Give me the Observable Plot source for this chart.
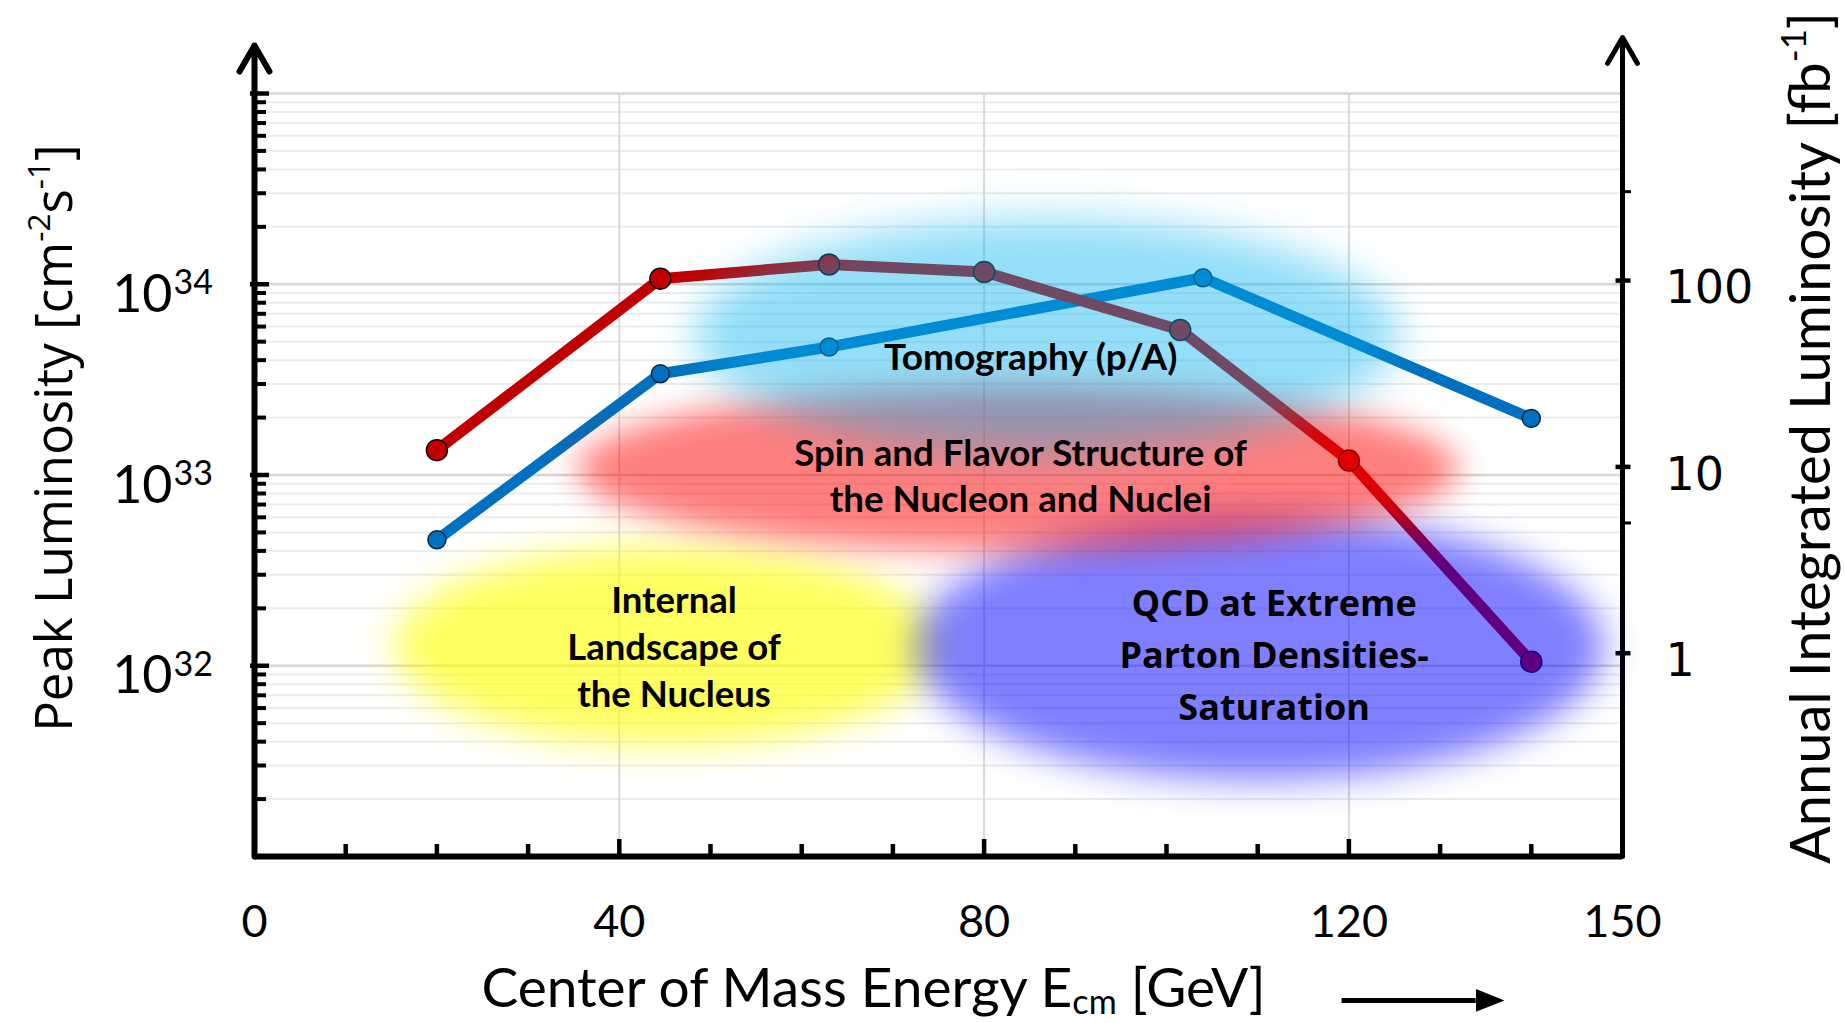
<!DOCTYPE html>
<html><head><meta charset="utf-8">
<script src="https://cdn.jsdelivr.net/npm/d3@7"></script>
<script src="https://cdn.jsdelivr.net/npm/@observablehq/plot@0.6"></script>
<style>
html,body{margin:0;padding:0;background:#fff;}
#chart{position:relative;width:1845px;height:1023px;overflow:hidden;}
#chart svg{position:absolute;left:0;top:0;}
</style></head><body><div id="chart"></div>
<script>
// ---------- data ----------
// Peak luminosity (left axis, cm^-2 s^-1) vs centre-of-mass energy (GeV)
const peakEnergy = [20, 44.5, 63, 80, 101.5, 120, 140];
const peakLumi   = [1.35e33, 1.07e34, 1.27e34, 1.16e34, 5.76e33, 1.19e33, 1.05e32];
// Annual integrated luminosity (right axis, fb^-1)
const annEnergy  = [20, 44.5, 63, 104, 140];
const annLumi    = [4.06, 31.6, 44, 103.5, 18.2];

// Physics regions (energy range x peak-luminosity range)
const regionNames = ["Internal Landscape of the Nucleus", "QCD at Extreme Parton Densities", "Spin and Flavor Structure", "Tomography"];
const regionE1 = [15.4, 72.5, 35.4, 48.3];
const regionE2 = [75.3, 148.0, 132.1, 125.6];
const regionL1 = [3.8e31, 2.5e31, 3.94e32, 1.3e33];
const regionL2 = [4.2e32, 6.2e32, 2.9e33, 2.2e34];

// Region labels
const labelTexts = ["Tomography (p/A)", "Spin and Flavor Structure of\nthe Nucleon and Nuclei", "Internal\nLandscape of\nthe Nucleus", "QCD at Extreme\nParton Densities-\nSaturation"];
const labelE = [85.1, 84.0, 46.0, 111.8];
const labelL = [4.3e33, 1.01e33, 1.28e32, 1.19e32];

// Ticks
const xTickValues = [0, 40, 80, 120, 150];
const xTickLabels = ["0", "40", "80", "120", "150"];
const xMinorTicks = [10, 20, 30, 50, 60, 70, 90, 100, 110, 130, 140];
const xMajorTicks = [40, 80, 120];
const yDecades = [1e31, 1e32, 1e33, 1e34, 1e35];
const yLabelDecades = [1e32, 1e33, 1e34];
const yLabelExp = ["32", "33", "34"];
const rightTickValues = [1, 10, 100];
const rightTickLabels = ["1", "10", "100"];
const rightMinorTicks = [5, 300];

// Axis titles
const yTitle = "Peak Luminosity [cm^{-2}s^{-1}]";
const y2Title = "Annual Integrated Luminosity [fb^{-1}]";
const xTitle = "Center of Mass Energy E_{cm} [GeV]";

// ---------- styles ----------
const regionFill = ["#ffff00", "#0000ff", "#ff0000", "#00b0f0"];
const regionAlpha = [0.62, 0.5, 0.5, 0.42];
const regionBlur = [18, 18, 16, 20];
const labelFont = [
  {fontFamily: "Lato", fontWeight: "bold", fontSize: 37, lineHeight: 1.3},
  {fontFamily: "Lato", fontWeight: "bold", fontSize: 36.7, lineHeight: 1.25},
  {fontFamily: "Lato", fontWeight: "bold", fontSize: 36.5, lineHeight: 1.29},
  {fontFamily: "Open Sans", fontWeight: "bold", fontSize: 36, lineHeight: 1.45}
];

// ---------- tables ----------
const peak = peakEnergy.map((e, i) => ({e, v: peakLumi[i]}));
const ann = annEnergy.map((e, i) => ({e, v: annLumi[i]}));
const regions = regionNames.map((n, i) => ({n, e1: regionE1[i], e2: regionE2[i], l1: regionL1[i], l2: regionL2[i]}));
const labels = labelTexts.map((t, i) => ({t, e: labelE[i], l: labelL[i]}));
const yMinor = [];
for (let k = 31; k < 35; k++) for (let m = 2; m <= 9; m++) yMinor.push(m * Math.pow(10, k));

const W = 1845, H = 1023;
const frame = {width: W, height: H, marginLeft: 254, marginRight: 223, marginTop: 93, marginBottom: 167};
const xOpt = {type: "linear", domain: [0, 150], axis: null};
const yLeft = {type: "log", domain: [1e31, 1e35], axis: null};
const yRight = {type: "log", domain: [0.0811, 1009], axis: null};
const st = {background: "transparent", overflow: "visible"};

function headMarker(color) {
  const m = d3.create("svg:marker")
    .attr("viewBox", "0 -4 10 8").attr("refX", 0).attr("refY", 0)
    .attr("markerWidth", 5.8).attr("markerHeight", 4.6).attr("orient", "auto");
  m.append("path").attr("d", "M0,-4L10,0L0,4Z").attr("fill", color).attr("stroke", "none");
  return m.node();
}

// Layer 1: grid
const L1 = Plot.plot({...frame, x: xOpt, y: yLeft, style: {...st, background: "white"},
  marks: [
    Plot.ruleY(yMinor, {stroke: "#ececec", strokeWidth: 2}),
    Plot.ruleY(yDecades, {stroke: "#d6d6d6", strokeWidth: 2.5}),
    Plot.ruleX(xMajorTicks, {stroke: "#d9d9d9", strokeWidth: 2})
  ]});

// Layer 2: annual integrated luminosity (right axis)
const L2 = Plot.plot({...frame, x: xOpt, y: yRight, style: st,
  marks: [
    Plot.line(ann, {x: "e", y: "v", stroke: "#0070c0", strokeWidth: 11, strokeLinejoin: "round"}),
    Plot.dot(ann, {x: "e", y: "v", r: 9, fill: "#0070c0", stroke: "#0b2540", strokeWidth: 1.5}),
    Plot.arrow([0], {x1: 150, x2: 150, y1: 0.0811, y2: 2018, stroke: "black", strokeWidth: 5, headLength: 9, headAngle: 60}),
    Plot.axisY(rightTickValues, {anchor: "right", tickSize: 15, dx: -7.5, strokeWidth: 4.5, fill: "none"}),
    Plot.axisY(rightMinorTicks, {anchor: "right", tickSize: 8, strokeWidth: 3, fill: "none"}),
    Plot.text(rightTickValues, {y: d => d, text: rightTickLabels, frameAnchor: "right", textAnchor: "start", lineAnchor: "middle", dx: 43, dy: 8, fontFamily: "DejaVu Sans", fontSize: 46, fill: "black"})
  ]});

// Layer 3: peak luminosity, regions, labels, axes
const L3 = Plot.plot({...frame, x: xOpt, y: yLeft, style: st,
  marks: [
    Plot.line(peak, {x: "e", y: "v", stroke: "#c00000", strokeWidth: 11, strokeLinejoin: "round"}),
    Plot.dot(peak, {x: "e", y: "v", r: 10.5, fill: "#c00000", stroke: "#1a0000", strokeWidth: 1.5}),
    ...regions.map((d, i) => Plot.rect([d], {x1: "e1", x2: "e2", y1: "l1", y2: "l2", fill: regionFill[i], fillOpacity: regionAlpha[i], rx: 3000, ry: 3000})),
    ...labels.map((d, i) => Plot.text([d], {x: "e", y: "l", text: "t", textAnchor: "middle", lineAnchor: "middle", fill: "black", ...labelFont[i]})),
    // left axis
    Plot.arrow([0], {x1: 0, x2: 0, y1: 1e31, y2: 1.785e35, stroke: "black", strokeWidth: 6, headLength: 7.5, headAngle: 60}),
    Plot.axisY(yMinor, {anchor: "left", tickSize: -12, strokeWidth: 4, fill: "none"}),
    Plot.axisY(yDecades.slice(1), {anchor: "left", tickSize: -19, dx: -4, strokeWidth: 4.5, fill: "none"}),
    Plot.text(yLabelDecades, {y: d => d, text: () => "10", frameAnchor: "left", textAnchor: "end", lineAnchor: "middle", dx: -82, dy: 11, fontFamily: "Lato", fontSize: 52, fill: "black"}),
    Plot.text(yLabelDecades, {y: d => d, text: yLabelExp, frameAnchor: "left", textAnchor: "start", lineAnchor: "middle", dx: -81, dy: -1, fontFamily: "Lato", fontSize: 34, fill: "black"}),
    // x axis
    Plot.ruleY([1e31], {stroke: "black", strokeWidth: 6}),
    Plot.axisX(xMinorTicks, {anchor: "bottom", tickSize: -12, strokeWidth: 4.5, fill: "none"}),
    Plot.axisX(xMajorTicks, {anchor: "bottom", tickSize: -17, strokeWidth: 4.5, fill: "none"}),
    Plot.text(xTickValues, {x: d => d, text: xTickLabels, frameAnchor: "bottom", lineAnchor: "middle", dy: 66, fontFamily: "Lato", fontSize: 45, fill: "black"}),
    // titles
    Plot.text([yTitle], {frameAnchor: "left", rotate: -90, textAnchor: "middle", lineAnchor: "bottom", dx: -183, dy: -37, fontFamily: "Open Sans", fontSize: 51, fill: "black"}),
    Plot.text([y2Title], {frameAnchor: "right", rotate: -90, textAnchor: "middle", lineAnchor: "bottom", dx: 207, dy: -37, fontFamily: "Lato", fontSize: 56, fill: "black"}),
    Plot.text([xTitle], {frameAnchor: "bottom", textAnchor: "middle", lineAnchor: "bottom", dx: -65, dy: 150, fontFamily: "Lato", fontSize: 55, fill: "black"}),
    Plot.link([0], {x1: 119.2, x2: 133.9, y1: 1.76e30, y2: 1.76e30, stroke: "black", strokeWidth: 5, markerEnd: headMarker})
  ]});

// soft-edged region ellipses (the only rect marks of layer 3, in order)
{
  const s = d3.select(L3);
  const defs = s.insert("defs", ":first-child");
  regionBlur.forEach((b, i) => {
    defs.append("filter").attr("id", "blur" + i).attr("filterUnits", "userSpaceOnUse")
      .attr("x", 0).attr("y", 0).attr("width", W).attr("height", H)
      .append("feGaussianBlur").attr("stdDeviation", b);
  });
  s.selectAll('g[aria-label="rect"]').each(function (d, i) {
    this.setAttribute("filter", `url(#blur${i})`);
  });
}

// superscripts / subscripts
function richify(svg) {
  d3.select(svg).selectAll("text").each(function () {
    const s = this.textContent;
    if (!/[\^_]\{/.test(s)) return;
    const parts = [], re = /([\^_])\{([^}]*)\}/g;
    let last = 0, m;
    while ((m = re.exec(s))) {
      if (m.index > last) parts.push({t: s.slice(last, m.index)});
      parts.push({t: m[2], k: m[1]});
      last = re.lastIndex;
    }
    if (last < s.length) parts.push({t: s.slice(last)});
    const el = d3.select(this);
    el.text(null);
    let shift = 0;
    for (const p of parts) {
      const ts = el.append("tspan").text(p.t);
      if (p.k) {
        const target = p.k === "^" ? -0.42 : 0.13;
        ts.attr("font-size", "0.62em").attr("dy", ((target - shift) / 0.62).toFixed(3) + "em");
        shift = target;
      } else if (shift !== 0) {
        ts.attr("dy", (-shift).toFixed(3) + "em");
        shift = 0;
      }
    }
  });
}
richify(L3);

const root = document.getElementById("chart");
root.append(L1, L2, L3);
</script></body></html>
